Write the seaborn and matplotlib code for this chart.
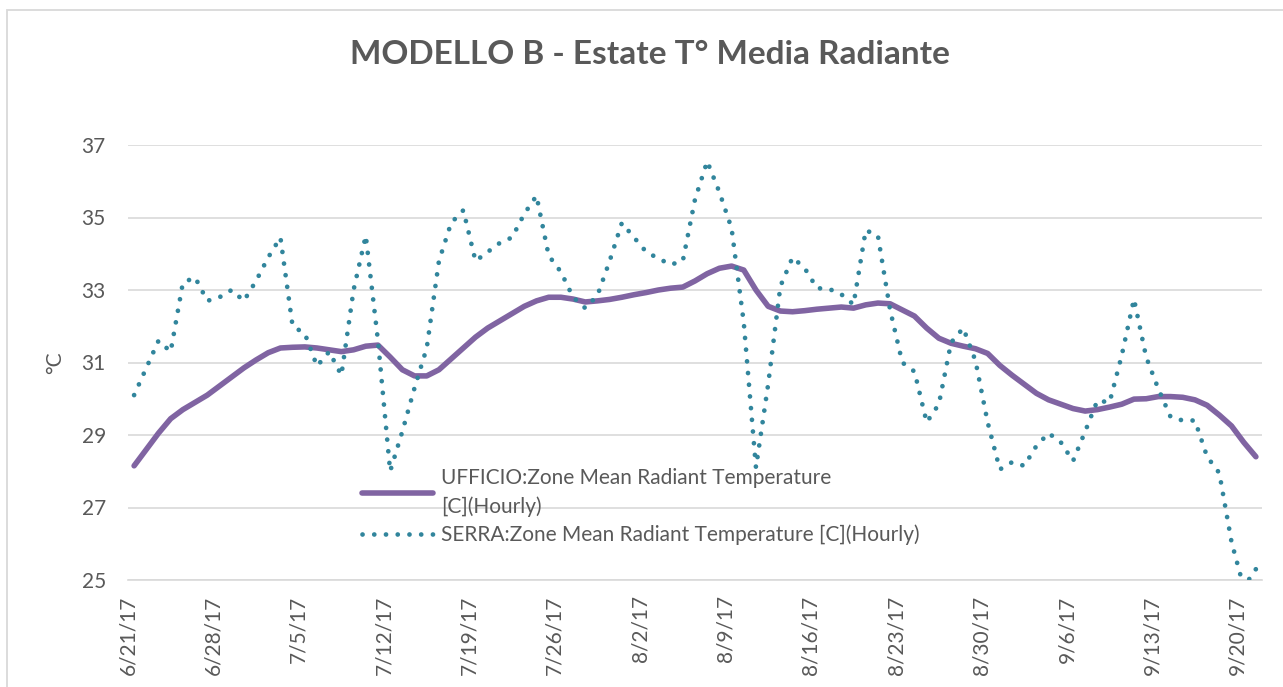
import pandas as pd
import matplotlib.pyplot as plt
import matplotlib.patches as mpatches
import seaborn as sns
import numpy as np

# daily means, 6/21/17 -> 9/21/17
start_day = '2017-06-21'
n_days = 93

ufficio = [28.15, 28.6, 29.05, 29.45, 29.7, 29.9, 30.1, 30.35, 30.6, 30.85,
           31.07, 31.27, 31.4, 31.42, 31.43, 31.4, 31.35, 31.3, 31.35, 31.45,
           31.48, 31.15, 30.8, 30.63, 30.63, 30.8, 31.1, 31.4, 31.7, 31.95,
           32.15, 32.35, 32.55, 32.7, 32.8, 32.8, 32.75, 32.67, 32.7, 32.74,
           32.8, 32.87, 32.93, 33.0, 33.05, 33.08, 33.25, 33.45, 33.6, 33.66,
           33.55, 33.0, 32.55, 32.42, 32.4, 32.43, 32.47, 32.5, 32.53, 32.5,
           32.59, 32.64, 32.62, 32.45, 32.28, 31.95, 31.67, 31.53, 31.45, 31.38,
           31.25, 30.92, 30.65, 30.4, 30.15, 29.97, 29.85, 29.73, 29.66, 29.7,
           29.77, 29.85, 29.99, 30.0, 30.06, 30.06, 30.04, 29.97, 29.82, 29.55,
           29.25, 28.8, 28.4]

serra = [30.1, 30.85, 31.6, 31.3, 33.2, 33.35, 32.7, 32.8, 33.0, 32.7,
         33.25, 33.9, 34.45, 32.0, 31.8, 30.9, 31.3, 30.65, 33.0, 34.5,
         31.6, 28.0, 29.1, 30.3, 31.4, 33.8, 34.85, 35.2, 33.8, 34.05,
         34.3, 34.45, 35.1, 35.6, 33.95, 33.5, 32.8, 32.5, 32.85, 33.8,
         34.85, 34.45, 34.05, 33.87, 33.7, 33.8, 35.5, 36.55, 35.7, 34.7,
         32.1, 28.1, 30.4, 33.1, 33.9, 33.6, 33.05, 33.03, 32.88, 32.6,
         34.65, 34.5, 32.45, 31.0, 30.75, 29.35, 29.85, 31.55, 31.95, 31.05,
         29.35, 28.05, 28.25, 28.15, 28.7, 29.05, 28.8, 28.28, 29.1, 29.95,
         29.9, 31.2, 32.75, 31.15, 30.27, 29.5, 29.4, 29.4, 28.4, 27.95,
         26.05, 24.8, 25.3]

label_ufficio = 'UFFICIO:Zone Mean Radiant Temperature\n[C](Hourly)'
label_serra = 'SERRA:Zone Mean Radiant Temperature [C](Hourly)'

tick_dates = pd.date_range(start_day, periods=14, freq='7D')
tick_labels = [f'{d.month}/{d.day}/17' for d in tick_dates]
y_ticks = [25, 27, 29, 31, 33, 35, 37]

# plotted at midday of each day
dates = pd.date_range(start_day, periods=n_days, freq='D') + pd.Timedelta(hours=12)
df = pd.DataFrame({'date': dates, 'UFFICIO': ufficio, 'SERRA': serra})

sns.set_theme(style='white')
plt.rcParams['font.family'] = ['Lato', 'DejaVu Sans']
plt.rcParams['lines.scale_dashes'] = False
txt = '#595959'
grid_c = '#D9D9D9'

fig = plt.figure(figsize=(12.83, 6.87), dpi=100)
ax = fig.add_axes([128 / 1283, 1 - 580 / 687, 1134 / 1283, 435 / 687])

sns.lineplot(data=df, x='date', y='UFFICIO', ax=ax, color='#8064A2', lw=4.0,
             label=label_ufficio, solid_capstyle='round', zorder=3)
# round dots every ~8.4 pt
sns.lineplot(data=df, x='date', y='SERRA', ax=ax, color='#31859C', lw=3.4,
             linestyle=(0, (0.05, 8.4)), dash_capstyle='round',
             label=label_serra, zorder=4)

ax.set_ylim(25, 37)
ax.set_xlim(pd.Timestamp(start_day), pd.Timestamp(start_day) + pd.Timedelta(days=93))
ax.set_yticks(y_ticks)
ax.set_xticks(tick_dates)
ax.set_xticklabels(tick_labels, rotation=90, fontsize=15, color=txt)
ax.tick_params(axis='y', labelsize=15, labelcolor=txt, length=0, pad=16)
ax.tick_params(axis='x', length=5, color=grid_c, width=1, pad=6, direction='out')
ax.grid(axis='y', color=grid_c, lw=1.2)
ax.grid(axis='x', visible=False)
for s in ['top', 'right', 'left']:
    ax.spines[s].set_visible(False)
ax.spines['bottom'].set_color(grid_c)
ax.spines['bottom'].set_linewidth(1.2)

ax.set_xlabel('')
ax.set_ylabel('°C', fontsize=15, color=txt, labelpad=12)

leg = ax.legend(loc='upper left', bbox_to_anchor=(0.2063, 0.257), frameon=False,
                fontsize=15, handlelength=3.4, handletextpad=0.4, borderpad=0,
                borderaxespad=0, labelspacing=0.35)
for t in leg.get_texts():
    t.set_color(txt)
    t.set_linespacing(1.5)

fig.text(650 / 1283, 1 - 55 / 687, 'MODELLO B - Estate T° Media Radiante',
         ha='center', va='center', fontsize=24, fontweight='bold', color=txt)

# chart area border
fig.add_artist(mpatches.Rectangle((7 / 1283, -0.05), 1.1, 1 - 10 / 687 + 0.05,
                                  transform=fig.transFigure, fill=False,
                                  edgecolor=grid_c, lw=1.3))

fig.savefig('out.png', dpi=100)
